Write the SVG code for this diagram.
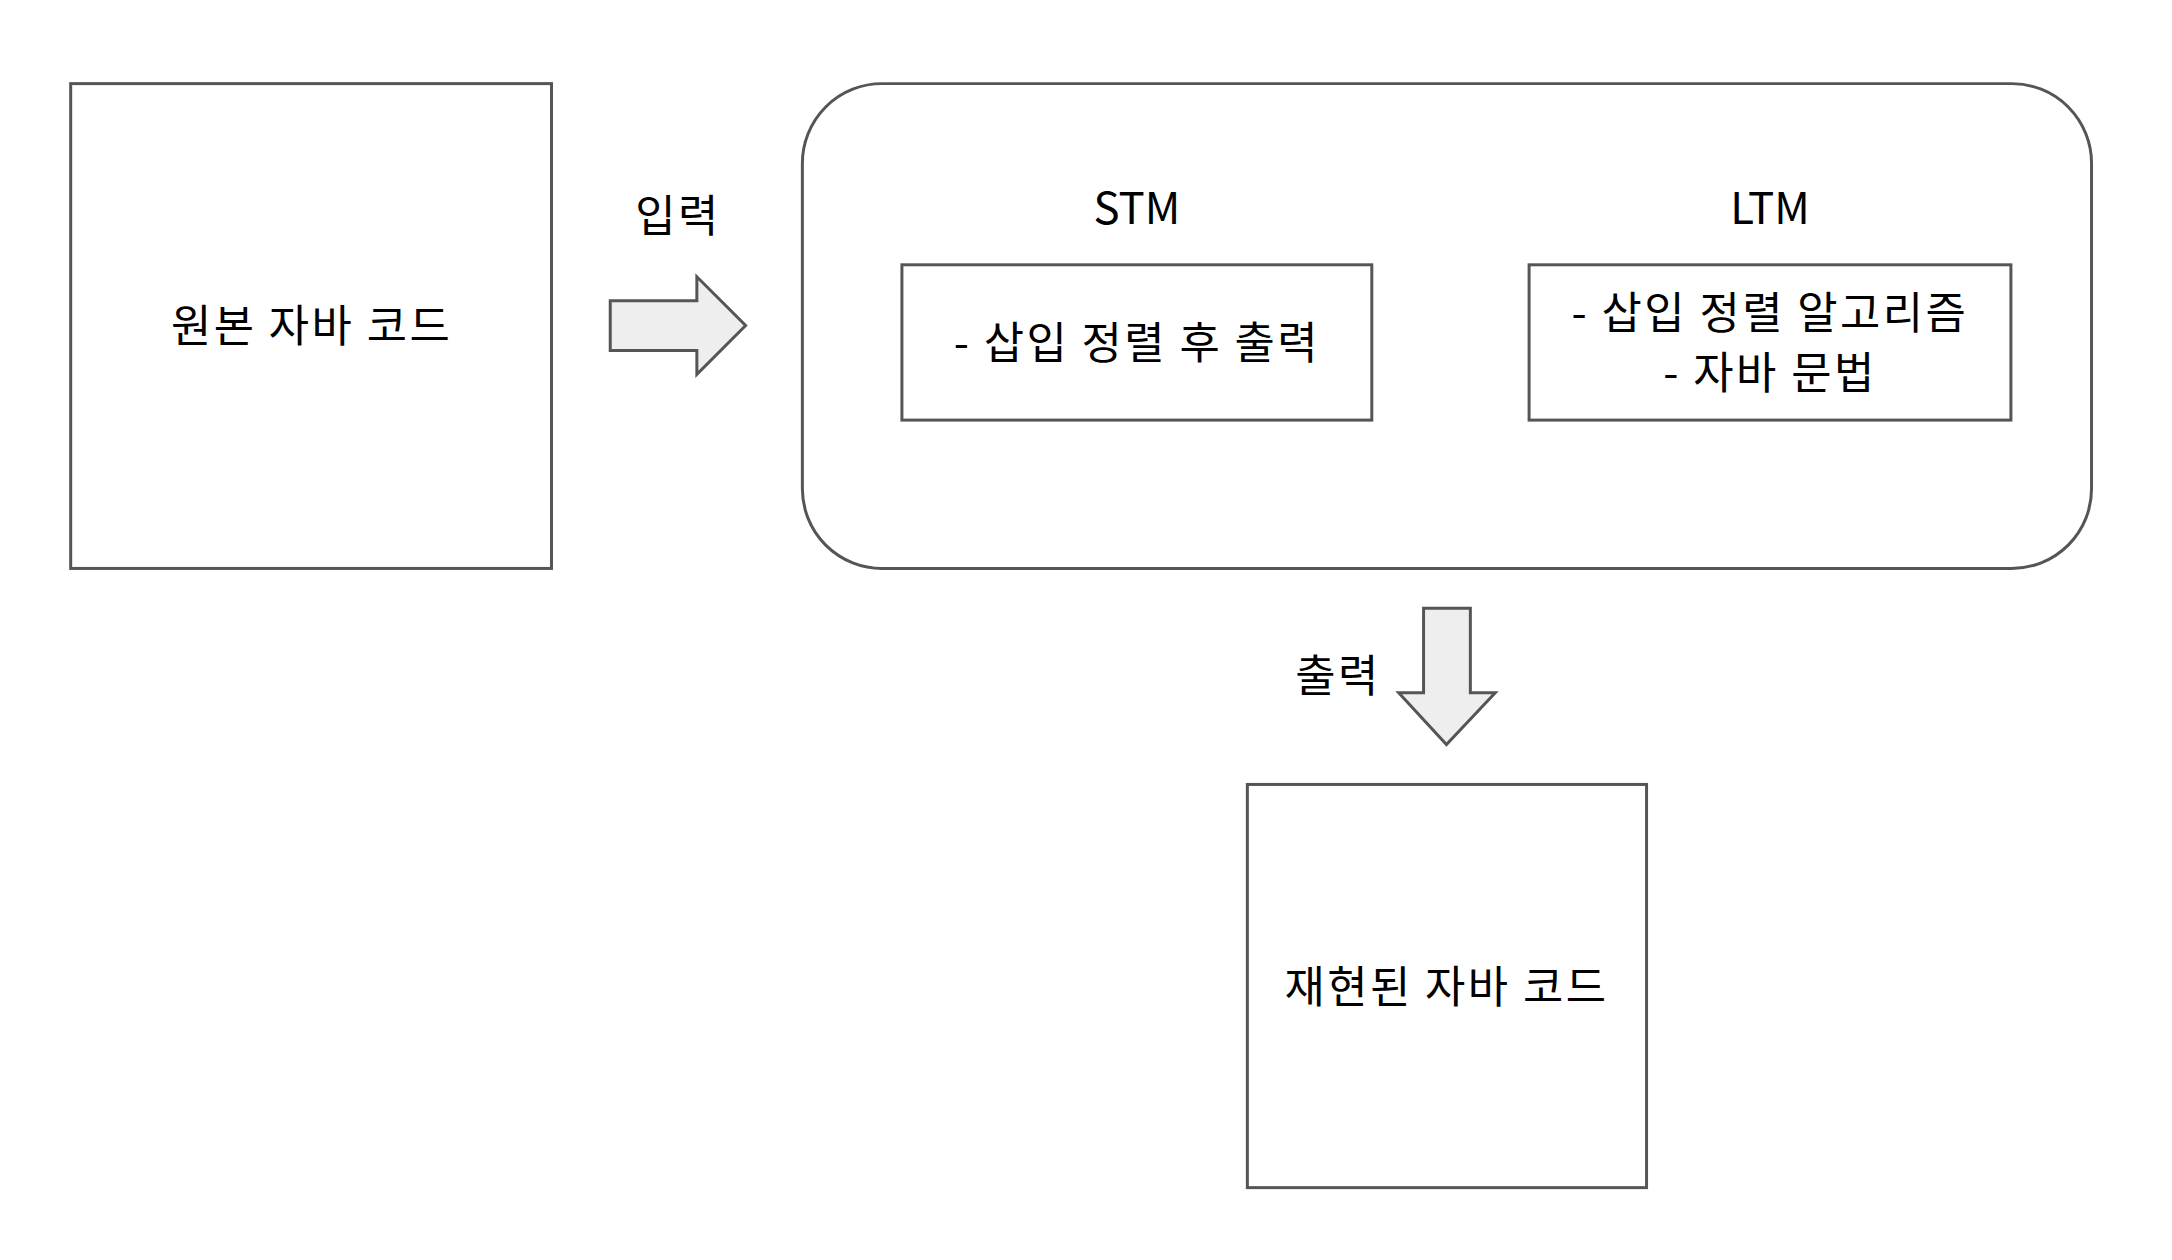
<svg xmlns="http://www.w3.org/2000/svg" width="2172" height="1260" viewBox="0 0 2172 1260">
<style>
.b{fill:#fff;stroke:#555;stroke-width:3}
.a{fill:#eee;stroke:#555;stroke-width:3;stroke-linejoin:miter}
text{font-family:"Noto Sans CJK KR","Liberation Sans",sans-serif;font-size:44px;letter-spacing:2.5px;fill:#000;text-anchor:middle;dominant-baseline:central}
</style>
<rect width="2172" height="1260" fill="#fff"/>
<g transform="scale(0.9955)">
<g id="src"><rect class="b" x="71" y="84" width="483" height="487"/><text x="313" y="324">원본 자바 코드</text></g>
<g id="mem"><rect class="b" x="806" y="84" width="1295" height="487" rx="80"/>
<text x="1142" y="206" font-family="Liberation Sans" style="letter-spacing:0">STM</text><text x="1778" y="206" font-family="Liberation Sans" style="letter-spacing:0">LTM</text></g>
<g id="stm"><rect class="b" x="906" y="266" width="472" height="156"/><text x="1142" y="342">- 삽입 정렬 후 출력</text></g>
<g id="ltm"><rect class="b" x="1536" y="266" width="484" height="156"/><text x="1778" y="311">- 삽입 정렬 알고리즘</text><text x="1778" y="372">- 자바 문법</text></g>
<g id="out"><rect class="b" x="1253" y="788" width="401" height="405"/><text x="1453" y="988">재현된 자바 코드</text></g>
<g id="connectors">
<path class="a" d="M613 302H700V278L749 327L700 376V352H613Z"/>
<text x="681" y="214">입력</text>
<path class="a" d="M1430 611H1477V696H1502L1453 748L1405 696H1430Z"/>
<text x="1344" y="676">출력</text>
</g>
</g>
</svg>
